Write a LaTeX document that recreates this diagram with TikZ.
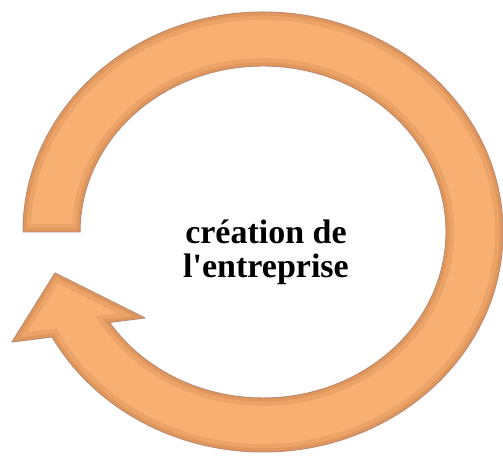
\documentclass[tikz,border=0pt]{standalone}
\usepackage{fontspec}
\setmainfont{Liberation Serif}
\definecolor{ringfill}{RGB}{247,176,114}
\definecolor{ringrim}{RGB}{205,128,72}
\definecolor{ringedge}{RGB}{188,140,112}

\begin{document}
\begin{tikzpicture}[x=1pt,y=1pt]
\tikzstyle{titre}=[font=\bfseries\fontsize{34}{34}\selectfont,align=center,inner sep=0pt]
\useasboundingbox (0,0) rectangle (503,457);
\coordinate (c) at (263,225);
% outer arc clockwise, arrow head, inner arc back to the tail
\def\ringpath{([shift={(c)}]180:240 and 220)
  arc[start angle=180,end angle=-151.5,x radius=240,y radius=220]
  -- (12,115) -- (55,184) -- (145,139)
  -- ([shift={(c)}]-147:183 and 166)
  arc[start angle=-147,end angle=180,x radius=183,y radius=166] -- cycle}
\fill[ringfill] \ringpath;
\begin{scope}
\clip \ringpath;
\draw[ringrim,line width=16,opacity=0.25] \ringpath;
\draw[ringrim,line width=7,opacity=0.35] \ringpath;
\end{scope}
\draw[ringedge,line width=1,line join=round] \ringpath;
\node[titre] (titre) at (266,205) {création de\\l\textquotesingle entreprise};
\end{tikzpicture}
\end{document}
